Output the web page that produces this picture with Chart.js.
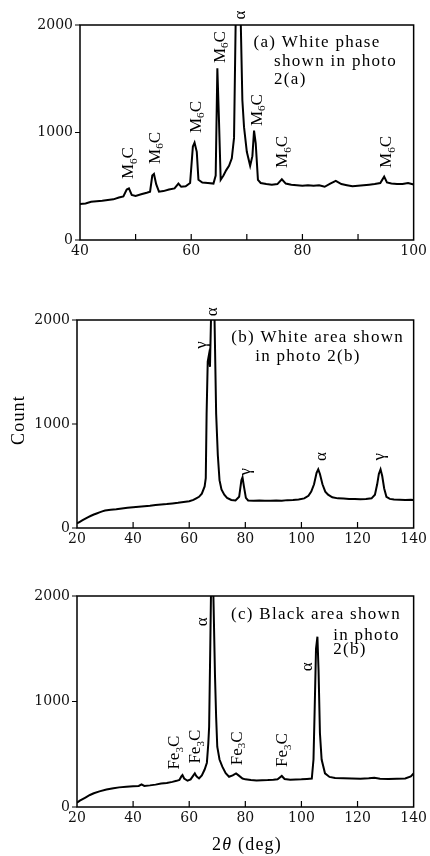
<!DOCTYPE html>
<html>
<head>
<meta charset="utf-8">
<script src="https://cdn.jsdelivr.net/npm/chart.js@4.4.0/dist/chart.umd.min.js"></script>
<style>
  html, body { margin: 0; padding: 0; background: #fff; }
  body { width: 430px; height: 856px; position: relative; overflow: hidden; }
  .panel { position: absolute; left: 0; }
</style>
</head>
<body>
<div class="panel" style="top:0px"><canvas id="chartA" width="430" height="280"></canvas></div>
<div class="panel" style="top:280px"><canvas id="chartB" width="430" height="290"></canvas></div>
<div class="panel" style="top:570px"><canvas id="chartC" width="430" height="286"></canvas></div>
<script>
// (a) white phase, 2theta 40-100
const angleA = [40, 41, 42, 43, 44, 45, 46, 47, 47.8, 48.4, 48.8, 49.3, 50, 51, 52, 52.6, 53.0, 53.3, 53.7, 54.2,
  55, 56, 57, 57.7, 58.2, 59, 59.8, 60.3, 60.6, 61.0, 61.3, 62, 63, 64, 64.4, 64.7, 65.0, 65.3, 65.8, 66.3,
  66.8, 67.3, 67.7, 68.0, 68.5, 68.9, 69.2, 69.5, 70.0, 70.6, 71.0, 71.3, 71.6, 72.0, 72.5, 73.5, 74.5, 75.5, 76.3, 77,
  78, 79, 80, 81, 82, 83, 84, 85, 86, 87, 88, 89, 90, 91, 92, 93, 94, 94.7, 95.2, 96,
  97, 98, 99, 100];
const countA = [335, 340, 355, 360, 365, 372, 378, 395, 405, 470, 480, 420, 410, 425, 440, 450, 600, 614, 520, 450,
  455, 470, 480, 525, 495, 500, 530, 870, 905, 820, 560, 535, 530, 525, 600, 1597, 1100, 560, 600, 650,
  690, 760, 950, 2050, 2400, 2050, 1300, 1050, 820, 690, 780, 1017, 900, 560, 530, 520, 515, 520, 565, 525,
  515, 510, 505, 510, 505, 510, 495, 525, 550, 520, 510, 500, 505, 510, 515, 520, 530, 589, 535, 525,
  520, 520, 530, 516];

// (b) white area, 2theta 20-140
const angleB = [20, 21, 22, 23, 24, 25, 26, 27, 28, 29, 30, 32, 34, 36, 38, 40, 42, 44, 46, 48,
  50, 52, 54, 56, 58, 60, 61.5, 62.5, 63.5, 64.5, 65.5, 65.9, 66.2, 66.6, 67.0, 67.4, 67.8, 68.4, 69.0, 69.6,
  70.2, 70.8, 71.5, 72.5, 73.5, 75, 76.5, 77.8, 78.6, 79.0, 79.5, 80.2, 81, 83, 85, 87, 89, 91, 93, 95,
  97, 99, 101, 102.5, 103.5, 104.5, 105.4, 106, 106.6, 107.5, 108.5, 109.5, 111, 113, 115, 117, 119, 121, 123, 125,
  126.2, 127, 127.6, 128.2, 128.8, 129.5, 130.3, 131.5, 133, 135, 137, 139, 140];
const countB = [45, 60, 75, 90, 105, 118, 130, 140, 150, 160, 168, 175, 180, 188, 195, 200, 205, 210, 215, 222,
  226, 230, 236, 242, 250, 258, 270, 285, 300, 330, 400, 480, 1100, 1600, 1660, 1550, 2050, 2300, 2050, 1100,
  700, 460, 370, 320, 290, 270, 265, 300, 460, 487, 400, 290, 265, 262, 265, 263, 262, 265, 263, 268,
  270, 275, 285, 310, 350, 420, 530, 564, 520, 420, 350, 320, 295, 285, 283, 280, 278, 276, 278, 285,
  320, 420, 520, 564, 500, 380, 300, 280, 275, 272, 270, 272, 269];

// (c) black area, 2theta 20-140
const angleC = [20, 21, 22, 23, 24.6, 26, 28, 30.5, 33, 35, 37.6, 40, 42, 43, 44, 46, 48, 50, 52, 54,
  55.5, 56.5, 57.2, 57.6, 58.2, 59.4, 60.5, 61.5, 62, 62.6, 63.5, 64.5, 65.5, 66.3, 66.8, 67.1, 67.5, 67.9, 68.3, 68.7,
  69.2, 69.6, 70.0, 70.8, 71.8, 73, 74.2, 75.5, 76.7, 77.6, 79, 80, 82, 84, 86, 88, 90, 91.5, 93, 94,
  96, 98, 100, 102, 103.7, 104.3, 104.7, 105.2, 105.7, 106.1, 106.6, 107.2, 108.4, 110, 112, 115, 118, 121, 124, 126,
  128, 131, 134, 137, 139, 140];
const countC = [41, 60, 75, 90, 114, 130, 148, 166, 178, 186, 192, 196, 200, 215, 200, 205, 212, 222, 228, 238,
  248, 256, 290, 303, 270, 249, 262, 300, 319, 290, 271, 300, 355, 420, 600, 761, 1500, 2300, 2400, 1900,
  1235, 850, 571, 450, 382, 320, 287, 300, 319, 300, 270, 262, 256, 252, 254, 255, 258, 262, 294, 265,
  258, 260, 262, 266, 270, 450, 900, 1500, 1614, 1300, 699, 450, 319, 285, 275, 272, 270, 268, 272, 278,
  268, 265, 268, 270, 290, 319];

const countTicks = [0, 1000, 2000];
const angleTicksA = [40, 60, 80, 100];
const angleTicksBC = [20, 40, 60, 80, 100, 120, 140];

const SERIF = "'Liberation Serif', 'DejaVu Serif', serif";
const TICKFONT = "'DejaVu Serif', serif";

// phase labels: [text, angle, count, rotated]   ("_x" = subscript x)
const labelsA = [
  ['M_6C', 48.8, 716, true], ['M_6C', 53.6, 856, true], ['M_6C', 61.0, 1144, true],
  ['M_6C', 65.2, 1795, true], ['\u03b1', 68.8, 2093, true], ['M_6C', 71.9, 1209, true],
  ['M_6C', 76.5, 819, true], ['M_6C', 95.2, 819, true],
  ['(a) White phase', 71.2, 1833, false], ['shown in photo', 74.9, 1660, false], ['2(a)', 74.9, 1490, false]
];
const labelsB = [
  ['\u03b3', 64.3, 1760, true], ['\u03b1', 68.4, 2080, true], ['\u03b3', 80.0, 541, true],
  ['\u03b1', 107.2, 686, true], ['\u03b3', 127.8, 686, true],
  ['(b) White area shown', 75.0, 1827, false], ['in photo 2(b)', 83.5, 1647, false]
];
const labelsC = [
  ['\u03b1', 64.7, 1756, true], ['\u03b1', 102.2, 1330, true],
  ['Fe_3C', 54.9, 515, true], ['Fe_3C', 62.4, 572, true], ['Fe_3C', 77.1, 556, true],
  ['Fe_3C', 93.4, 540, true],
  ['(c) Black area shown', 74.9, 1820, false], ['in photo', 111.3, 1630, false], ['2(b)', 111.3, 1488, false]
];

// draws text centred on (0,0), with "_x" rendered as a small lowered x
function drawRich(ctx, text, size) {
  const parts = [];
  for (let i = 0; i < text.length; i++) {
    if (text[i] === '_') { parts.push([text[i + 1], true]); i++; }
    else parts.push([text[i], false]);
  }
  let total = 0;
  parts.forEach(p => {
    ctx.font = (p[1] ? size * 0.65 : size) + 'px ' + SERIF;
    p.push(ctx.measureText(p[0]).width);
    total += p[2];
  });
  let x = -total / 2;
  ctx.textAlign = 'left';
  parts.forEach(p => {
    ctx.font = (p[1] ? size * 0.65 : size) + 'px ' + SERIF;
    ctx.fillText(p[0], x, p[1] ? size * 0.28 : 0);
    x += p[2];
  });
}

const framePlugin = {
  id: 'frame',
  afterDraw(chart, args, opts) {
    const ctx = chart.ctx;
    const a = chart.chartArea;
    const xs = chart.scales.x, ys = chart.scales.y;
    ctx.save();
    ctx.strokeStyle = '#000';
    ctx.lineWidth = 1.5;
    ctx.strokeRect(a.left, a.top, a.right - a.left, a.bottom - a.top);
    ctx.lineWidth = 1.2;
    ctx.beginPath();
    for (let v = xs.min + opts.minorStep; v < xs.max; v += opts.minorStep) {
      const px = xs.getPixelForValue(v);
      ctx.moveTo(px, a.bottom);
      ctx.lineTo(px, a.bottom - 6);
    }
    countTicks.forEach(v => {
      const py = ys.getPixelForValue(v);
      ctx.moveTo(a.left, py);
      ctx.lineTo(a.left - 5, py);
    });
    ctx.stroke();

    ctx.fillStyle = '#000';
    ctx.textBaseline = 'middle';
    opts.labels.forEach(([t, xv, yv, rot]) => {
      const px = xs.getPixelForValue(xv);
      const py = ys.getPixelForValue(yv);
      if (rot) {
        ctx.save();
        ctx.translate(px, py);
        ctx.rotate(-Math.PI / 2);
        drawRich(ctx, t, 17);
        ctx.restore();
      } else {
        ctx.textAlign = 'left';
        ctx.font = '17px ' + SERIF;
        ctx.letterSpacing = '1.3px';
        ctx.fillText(t, px, py);
        ctx.letterSpacing = '0px';
      }
    });
    ctx.textAlign = 'center';
    (opts.extra || []).forEach(([t, px, py, rot]) => {
      ctx.save();
      ctx.translate(px, py);
      ctx.font = '18px ' + SERIF;
      ctx.letterSpacing = '1.2px';
      if (rot) {
        ctx.rotate(-Math.PI / 2);
        ctx.fillText(t, 0, 0);
      } else {
        // "2θ (deg)" with italic theta
        const w1 = ctx.measureText('2').width;
        ctx.font = 'italic 18px ' + SERIF;
        const w2 = ctx.measureText('\u03b8').width;
        ctx.font = '18px ' + SERIF;
        const w3 = ctx.measureText(' (deg)').width;
        let x = -(w1 + w2 + w3) / 2;
        ctx.textAlign = 'left';
        ctx.fillText('2', x, 0); x += w1;
        ctx.font = 'italic 18px ' + SERIF;
        ctx.fillText('\u03b8', x, 0); x += w2;
        ctx.font = '18px ' + SERIF;
        ctx.fillText(' (deg)', x, 0);
        ctx.textAlign = 'center';
      }
      ctx.restore();
    });
    ctx.restore();
  }
};

function makeChart(id, angles, counts, xMin, xMax, xTicks, minorStep, box, labels, extra) {
  const pts = angles.map((x, i) => ({ x: x, y: counts[i] }));
  return new Chart(document.getElementById(id), {
    type: 'line',
    data: {
      datasets: [{
        data: pts,
        borderColor: '#000',
        borderWidth: 2,
        pointRadius: 0,
        tension: 0,
        fill: false
      }]
    },
    options: {
      responsive: false,
      animation: false,
      layout: { padding: { top: box.top, right: box.right, left: 0, bottom: 0 } },
      plugins: {
        legend: { display: false },
        tooltip: { enabled: false },
        frame: { minorStep: minorStep, labels: labels, extra: extra }
      },
      scales: {
        x: {
          type: 'linear',
          min: xMin,
          max: xMax,
          grid: { display: false, drawTicks: false },
          border: { display: false },
          afterBuildTicks: s => { s.ticks = xTicks.map(v => ({ value: v })); },
          afterFit: s => { s.height = box.bottomH; },
          ticks: {
            maxRotation: 0,
            padding: 3,
            color: '#111',
            font: { family: TICKFONT, size: 14 },
            callback: v => String(v)
          }
        },
        y: {
          min: 0,
          max: 2000,
          grid: { display: false, drawTicks: false },
          border: { display: false },
          afterBuildTicks: s => { s.ticks = countTicks.map(v => ({ value: v })); },
          afterFit: s => { s.width = box.leftW; },
          ticks: {
            padding: 7,
            color: '#111',
            font: { family: TICKFONT, size: 14 },
            callback: v => String(v)
          }
        }
      }
    },
    plugins: [framePlugin]
  });
}

makeChart('chartA', angleA, countA, 40, 100, angleTicksA, 10,
  { top: 25, right: 10, leftW: 80, bottomH: 40 }, labelsA, []);
makeChart('chartB', angleB, countB, 20, 140, angleTicksBC, 20,
  { top: 40, right: 15, leftW: 77, bottomH: 42 }, labelsB, [['Count', 19, 140, true]]);
makeChart('chartC', angleC, countC, 20, 140, angleTicksBC, 20,
  { top: 26, right: 14, leftW: 77, bottomH: 49 }, labelsC, [['2\u03b8 (deg)', 247, 275, false]]);
</script>
</body>
</html>
